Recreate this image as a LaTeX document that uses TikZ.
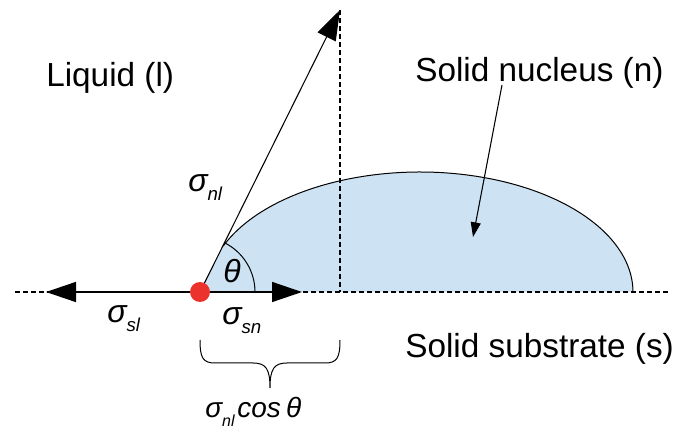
\documentclass[tikz,border=0pt]{standalone}
\usepackage{fontspec}
\setmainfont{Liberation Sans}
\usetikzlibrary{arrows.meta,calc}
\definecolor{capblue}{RGB}{205,226,242}
\definecolor{dotred}{RGB}{236,50,45}
\tikzset{
  big/.style={font=\fontsize{25}{28}\selectfont, inner sep=0pt, anchor=base west},
  sym/.style={font=\fontsize{24}{28}\selectfont\itshape, inner sep=0pt, anchor=base west},
  smallsym/.style={font=\fontsize{21}{24}\selectfont\itshape, inner sep=0pt, anchor=base west},
  force/.style={line width=1.1pt, -{Triangle[length=22.5pt,width=15pt]}},
  vec/.style={line width=0.8pt, -{Triangle[length=22.5pt,width=15pt]}},
  pointer/.style={line width=0.8pt, -{Triangle[length=11pt,width=7.5pt]}},
  guide/.style={line width=0.8pt, dash pattern=on 3.5pt off 2.5pt},
  thin/.style={line width=0.75pt},
  dotnode/.style={circle, fill=dotred, minimum size=15pt, inner sep=0pt}
}
\newcommand{\subtxt}[1]{\raisebox{-0.28em}{\fontsize{14}{14}\selectfont\itshape #1}}
\newcommand{\subsmall}[1]{\raisebox{-0.3em}{\fontsize{12}{12}\selectfont\itshape #1}}
\begin{document}
\begin{tikzpicture}[x=0.75pt,y=0.75pt]
\useasboundingbox (0,0) rectangle (683,429);
% coordinates
\coordinate (O) at (200,137);
\coordinate (Lend) at (15,137);
\coordinate (Rend) at (668,137);
\coordinate (Ltip) at (46,137);
\coordinate (Rtip) at (302,137);
\coordinate (Vtip) at (340,419);
\coordinate (Vfoot) at (340,137);
\coordinate (capstart) at (223.2,182.9);
\coordinate (ptrstart) at (502,344);
\coordinate (ptrtip) at (473,192);
% nucleus cap
\fill[capblue] (O) -- (capstart) arc[start angle=157.5, end angle=0, x radius=159.75pt, y radius=90pt] -- cycle;
\draw[thin] (capstart) arc[start angle=157.5, end angle=0, x radius=159.75pt, y radius=90pt];
% dashed guides
\draw[guide] (Lend) -- (Rend);
\draw[guide] (Vtip) -- (Vfoot);
% angle arc
\draw[thin] ($(O)+(55,0)$) arc[start angle=0, end angle=63.6, radius=41.25pt];
% force vectors
\draw[force] (O) -- (Ltip);
\draw[force] (O) -- (Rtip);
\draw[vec] (O) -- (Vtip);
\node[dotnode] (dot) at (O) {};
% pointer to nucleus
\draw[pointer] (ptrstart) -- (ptrtip);
% brace
\draw[thin] (200,89) .. controls (200,71) and (203,66) .. (215,66) -- (253,66)
  .. controls (266,66) and (270,60) .. (270,41)
  .. controls (270,60) and (274,66) .. (287,66) -- (325,66)
  .. controls (337,66) and (340,71) .. (340,89);
% labels
\node[big] (liq) at (46,342) {Liquid (l)};
\node[big] (nuc) at (415,347) {Solid nucleus (n)};
\node[big] (sub) at (405,71) {Solid substrate (s)};
\node[sym] (snl) at (188,237) {σ\subtxt{nl}};
\node[sym] (ssl) at (107,106) {σ\subtxt{sl}};
\node[sym] (ssn) at (222,104) {σ\subtxt{sn}};
\node[sym] (th) at (223,146) {θ};
\node[smallsym] (cosl) at (205,11) {σ\subsmall{nl}\hspace{2pt}cos\hspace{4pt}θ};
\end{tikzpicture}
\end{document}
